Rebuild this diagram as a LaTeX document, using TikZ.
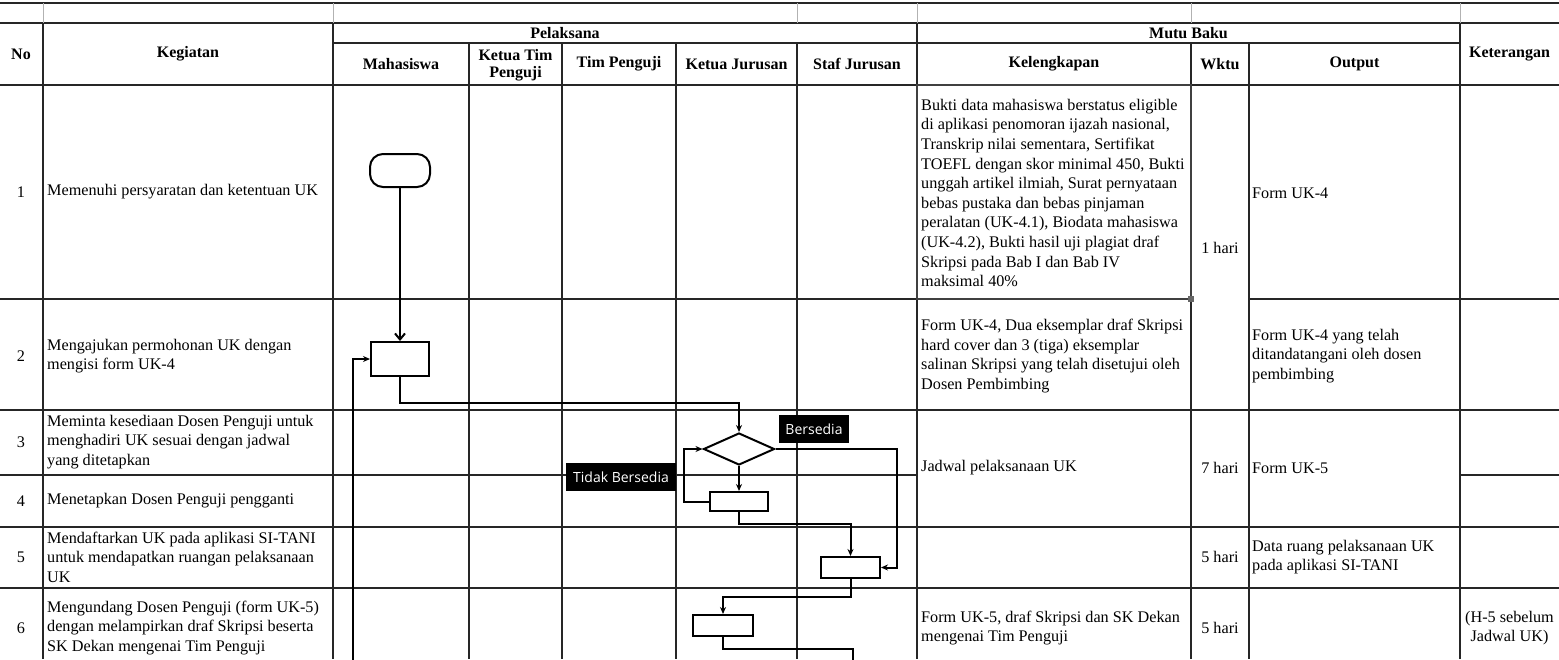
\documentclass[tikz,border=0pt]{standalone}
\usepackage{fontspec}
\setmainfont{Liberation Serif}
\newfontfamily\lblfont{Open Sans}
\usetikzlibrary{shapes.geometric,arrows.meta,calc}
\begin{document}
\begin{tikzpicture}[x=1pt,y=-1pt,
 grid/.style={line width=1.2pt, black!85},
 faint/.style={line width=0.8pt, black!30},
 flow/.style={line width=2pt, black},
 arr/.style={flow, -{Stealth[length=7pt,width=6pt]}},
 arrv/.style={flow, -{Straight Barb[length=6pt,width=10pt]}},
 shp/.style={draw, flow, fill=white, inner sep=0pt},
 hd/.style={font=\bfseries\fontsize{16}{16.5}\selectfont, align=center, inner sep=0pt},
 tx/.style={font=\fontsize{16.2}{19.6}\selectfont, align=left, inner sep=0pt, anchor=west},
 ctr/.style={font=\fontsize{16.2}{19.6}\selectfont, align=center, inner sep=0pt},
 lbl/.style={fill=black, text=white, font=\lblfont\fontsize{14}{16}\selectfont, inner sep=0pt, minimum height=28pt}
]
\useasboundingbox (0,0) rectangle (1559,659);

% ---------- table grid ----------
\draw[grid] (0,3) -- (1559,3);
\draw[grid] (0,23) -- (1559,23);
\foreach \x in {43,333,797,917,1191,1460} \draw[faint] (\x,3) -- (\x,23);
\draw[grid] (333,43) -- (1460,43);
\draw[grid] (0,85) -- (1559,85);
\foreach \x in {43,333,917,1460} \draw[grid] (\x,23) -- (\x,659);
\foreach \x in {469,562,676,797,1191,1249} \draw[grid] (\x,43) -- (\x,659);
\draw[grid] (0,299) -- (1191,299);
\draw[grid] (1249,299) -- (1559,299);
\draw[grid] (0,410) -- (1559,410);
\draw[grid] (0,475) -- (917,475);
\draw[grid] (1460,475) -- (1559,475);
\draw[grid] (0,527) -- (1559,527);
\draw[grid] (0,588) -- (1559,588);

% selected cell border
\draw[line width=2.2pt, black!75] (917,85) rectangle (1191,299);
\node[fill=black!60, minimum size=6pt, inner sep=0pt] (handle) at (1191,299) {};

% ---------- header ----------
\node[hd] (hNo) at (21,54) {No};
\node[hd] (hKeg) at (188,54) {Kegiatan};
\node[hd] (hPel) at (565,33) {Pelaksana};
\node[hd] (hMhs) at (401,64) {Mahasiswa};
\node[hd] (hKtp) at (515.5,65) {Ketua Tim\\Penguji};
\node[hd] (hTp) at (619,64) {Tim Penguji};
\node[hd] (hKj) at (736.5,64) {Ketua Jurusan};
\node[hd] (hSj) at (857,64) {Staf Jurusan};
\node[hd] (hMb) at (1188.5,33) {Mutu Baku};
\node[hd] (hKel) at (1054,64) {Kelengkapan};
\node[hd] (hW) at (1220,64) {Wktu};
\node[hd] (hOut) at (1354.5,64) {Output};
\node[hd] (hKet) at (1509.5,54) {Keterangan};

% ---------- rows ----------
\node[ctr] (n1) at (21,192) {1};
\node[ctr] (n2) at (21,356) {2};
\node[ctr] (n3) at (21,442) {3};
\node[ctr] (n4) at (21,501) {4};
\node[ctr] (n5) at (21,557) {5};
\node[ctr] (n6) at (21,628) {6};

\node[tx] (k1) at (47,192) {Memenuhi persyaratan dan ketentuan UK};
\node[tx] (k2) at (47,356) {Mengajukan permohonan UK dengan\\mengisi form UK-4};
\node[tx] (k3) at (47,442) {Meminta kesediaan Dosen Penguji untuk\\menghadiri UK sesuai dengan jadwal\\yang ditetapkan};
\node[tx] (k4) at (47,501) {Menetapkan Dosen Penguji pengganti};
\node[tx] (k5) at (47,557) {Mendaftarkan UK pada aplikasi SI-TANI\\untuk mendapatkan ruangan pelaksanaan\\UK};
\node[tx] (k6) at (47,628) {Mengundang Dosen Penguji (form UK-5)\\dengan melampirkan draf Skripsi beserta\\SK Dekan mengenai Tim Penguji};

\node[tx] (kl1) at (921,193) {Bukti data mahasiswa berstatus eligible\\di aplikasi penomoran ijazah nasional,\\Transkrip nilai sementara, Sertifikat\\TOEFL dengan skor minimal 450, Bukti\\unggah artikel ilmiah, Surat pernyataan\\bebas pustaka dan bebas pinjaman\\peralatan (UK-4.1), Biodata mahasiswa\\(UK-4.2), Bukti hasil uji plagiat draf\\Skripsi pada Bab I dan Bab IV\\maksimal 40\%};
\node[tx] (kl2) at (921,356) {Form UK-4, Dua eksemplar draf Skripsi\\hard cover dan 3 (tiga) eksemplar\\salinan Skripsi yang telah disetujui oleh\\Dosen Pembimbing};
\node[tx] (kl3) at (921,468) {Jadwal pelaksanaan UK};
\node[tx] (kl6) at (921,628) {Form UK-5, draf Skripsi dan SK Dekan\\mengenai Tim Penguji};

\node[ctr] (w1) at (1220,248) {1 hari};
\node[ctr] (w3) at (1220,468) {7 hari};
\node[ctr] (w5) at (1220,557) {5 hari};
\node[ctr] (w6) at (1220,628) {5 hari};

\node[tx] (o1) at (1252,193) {Form UK-4};
\node[tx] (o2) at (1252,356) {Form UK-4 yang telah\\ditandatangani oleh dosen\\pembimbing};
\node[tx] (o3) at (1252,468) {Form UK-5};
\node[tx] (o5) at (1252,557) {Data ruang pelaksanaan UK\\pada aplikasi SI-TANI};

\node[ctr] (ket6) at (1509.5,628) {(H-5 sebelum\\Jadwal UK)};

% ---------- flowchart ----------
\node[shp, rounded corners=13pt, minimum width=60pt, minimum height=33pt] (term) at (400,170.5) {};
\node[shp, minimum width=58pt, minimum height=34pt] (r2) at (400,359) {};
\node[shp, diamond, minimum width=71pt, minimum height=32pt] (dia) at (739,449) {};
\node[shp, minimum width=58pt, minimum height=19pt] (r4) at (739,501.5) {};
\node[shp, minimum width=59pt, minimum height=21pt] (r5) at (850.5,567.5) {};
\node[shp, minimum width=60pt, minimum height=21pt] (r6) at (723,625.5) {};

\coordinate (c1) at (739,403);
\coordinate (c2) at (897,500);
\coordinate (c3) at (684,475);
\coordinate (c4) at (850.5,524);
\coordinate (c5) at (723,597);
\coordinate (c6) at (853,649);
\coordinate (c7) at (853,662);
\coordinate (c8) at (353,662);

\draw[arrv] (term.south) -- (r2.north);
\draw[arr] (r2.south) |- (c1) -- (dia.north);
\draw[arr] (dia.south) -- (r4.north);
\draw[arr] (dia.east) -| (c2) |- (r5.east);
\draw[arr] (r4.west) -| (c3) |- (dia.west);
\draw[arr] (r4.south) |- (c4) -- (r5.north);
\draw[arr] (r5.south) |- (c5) -- (r6.north);
\draw[flow] (r6.south) |- (c6) -- (c7);
\draw[arr] (c8) |- (r2.west);

\node[lbl, minimum width=70pt] (lb1) at (814,429) {Bersedia};
\node[lbl, minimum width=110pt] (lb2) at (621,477) {Tidak Bersedia};
\end{tikzpicture}
\end{document}
